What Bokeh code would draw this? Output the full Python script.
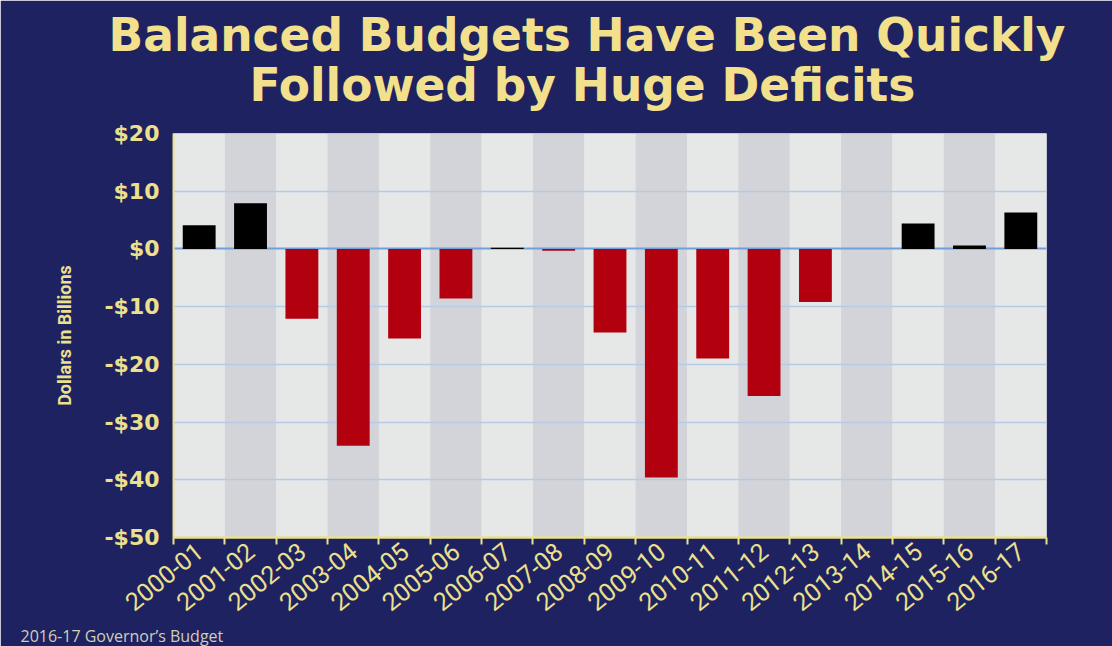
from bokeh.plotting import figure
from bokeh.models import (FactorRange, Range1d, LinearAxis, CategoricalAxis,
                          FixedTicker, Title, Grid)
from bokeh.embed import file_html
from bokeh.resources import INLINE

# ---------------- data ----------------
categories = ["2000-01", "2001-02", "2002-03", "2003-04", "2004-05", "2005-06",
              "2006-07", "2007-08", "2008-09", "2009-10", "2010-11", "2011-12",
              "2012-13", "2013-14", "2014-15", "2015-16", "2016-17"]
balance = [4.1, 7.9, -12.1, -34.1, -15.5, -8.6, 0.2, -0.3, -14.5, -39.6,
           -19.0, -25.5, -9.2, 0.0, 4.4, 0.6, 6.3]
y_ticks = [20, 10, 0, -10, -20, -30, -40, -50]
y_tick_labels = ["$20", "$10", "$0", "-$10", "-$20", "-$30", "-$40", "-$50"]
title_lines = ["Balanced Budgets Have Been Quickly", "Followed by Huge Deficits"]
y_label = "Dollars in Billions"
source_note = "2016-17 Governor\u2019s Budget"

# ---------------- layout / style ----------------
W, H = 1112, 646
L, R, T, B = 173, 1046, 133, 537
Y0, Y1 = -50, 20
NAVY = "#1f2260"
YELLOW = "#ebe08e"
TITLE_YELLOW = "#f3e08c"
LIGHT = "#e6e8e8"
GRAY = "#d3d4d9"
RED = "#b3000f"

p = figure(width=W, height=H,
           x_range=FactorRange(factors=categories, range_padding=0),
           y_range=Range1d(Y0, Y1),
           x_axis_location=None, y_axis_location=None,
           output_backend="svg", toolbar_location=None,
           min_border_left=L, min_border_right=W - R,
           min_border_top=T, min_border_bottom=H - B)
p.background_fill_color = LIGHT
p.border_fill_color = NAVY
p.outline_line_color = None
for r in list(p.center):
    if isinstance(r, Grid):
        r.visible = False

# alternating column bands
band_colors = [LIGHT if i % 2 == 0 else GRAY for i in range(len(categories))]
p.vbar(x=categories, top=Y1, bottom=Y0, width=1.0,
       fill_color=band_colors, line_color=None)

# gridlines
grid_vals = [t for t in y_ticks if t not in (0, Y0, Y1)]
p.hspan(y=grid_vals, line_color="#b4cbe8", line_width=1.5)
p.hspan(y=[0], line_color="#6f9fdc", line_width=2)

# bars
bar_colors = ["#000000" if v >= 0 else RED for v in balance]
p.vbar(x=categories, top=balance, bottom=0, width=0.64,
       fill_color=bar_colors, line_color=None)

# y axis
yaxis = LinearAxis(ticker=FixedTicker(ticks=y_ticks),
                   major_label_overrides=dict(zip(y_ticks, y_tick_labels)),
                   axis_label=y_label,
                   axis_label_text_font="Roboto",
                   axis_label_text_font_style="bold",
                   axis_label_text_font_size="18px",
                   axis_label_text_color=YELLOW,
                   axis_label_standoff=26,
                   axis_line_color=YELLOW, axis_line_width=2,
                   major_tick_line_color=None, major_tick_in=0, major_tick_out=0,
                   minor_tick_line_color=None, minor_tick_in=0, minor_tick_out=0,
                   major_label_standoff=14,
                   major_label_text_font="DejaVu Sans",
                   major_label_text_font_style="bold",
                   major_label_text_font_size="22px",
                   major_label_text_color=YELLOW)
p.add_layout(yaxis, "left")

# boundary tick axis (ticks between categories, in the range's synthetic units)
tick_axis = LinearAxis(ticker=FixedTicker(ticks=list(range(len(categories) + 1))),
                       major_label_text_font_size="0px",
                       major_label_text_color=None,
                       major_label_standoff=0,
                       major_tick_in=0, major_tick_out=7,
                       major_tick_line_color=YELLOW, major_tick_line_width=2,
                       minor_tick_line_color=None, minor_tick_in=0, minor_tick_out=0,
                       axis_line_color=YELLOW, axis_line_width=2.5)
p.add_layout(tick_axis, "below")

xaxis = CategoricalAxis(axis_line_color=None,
                        major_tick_line_color=None, major_tick_in=0, major_tick_out=0,
                        minor_tick_line_color=None,
                        major_label_standoff=3,
                        major_label_orientation=0.68,
                        major_label_text_font="Roboto",
                        major_label_text_font_size="25px",
                        major_label_text_color=YELLOW)
p.add_layout(xaxis, "below")

# titles (first added sits closest to the plot)
p.add_layout(Title(text=title_lines[1], align="left", offset=76,
                   text_font="DejaVu Sans", text_font_style="bold",
                   text_font_size="45.5px", text_color=TITLE_YELLOW,
                   standoff=43), "above")
p.add_layout(Title(text=title_lines[0], align="left", offset=-65,
                   text_font="DejaVu Sans", text_font_style="bold",
                   text_font_size="45.5px", text_color=TITLE_YELLOW,
                   standoff=-52), "above")

# footer
p.add_layout(Title(text=source_note, align="left", offset=20 - L,
                   text_font="Open Sans", text_font_style="normal",
                   text_font_size="16px", text_color="#cfcfb8",
                   standoff=0), "below")

open("out.html", "w").write(file_html(p, INLINE))
